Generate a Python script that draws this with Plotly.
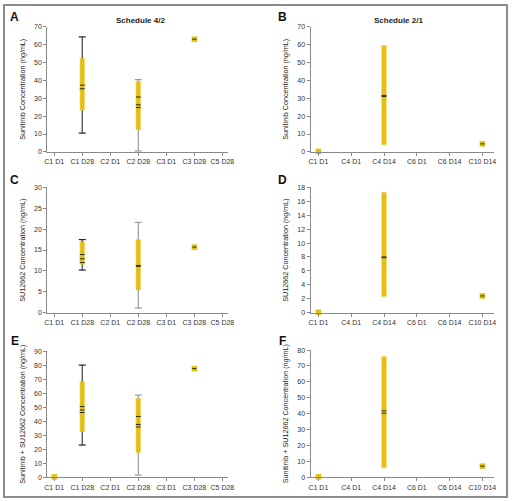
import plotly.graph_objects as go
from plotly.subplots import make_subplots

# ---------------- data ----------------
cats_42 = ["C1 D1", "C1 D28", "C2 D1", "C2 D28", "C3 D1", "C3 D28", "C5 D28"]
cats_21 = ["C1 D1", "C4 D1", "C4 D14", "C6 D1", "C6 D14", "C10 D14"]

# boxes: category, q1, q3, whisker low, whisker high, dashes, whisker colour
a_boxes = [
    ("C1 D28", 23.3, 52.4, 10.5, 64.3, [37.3, 35.3], "#3c3c3c"),
    ("C2 D28", 12.3, 39.5, 0.5, 40.4, [30.7, 26.3, 24.8], "#9a9a9a"),
]
a_single = [("C3 D28", 63.0, True)]

b_boxes = [("C4 D14", 4.0, 59.5, None, None, [31.6, 31.0], None)]
b_single = [("C1 D1", 0.3, False), ("C10 D14", 4.5, True)]

c_boxes = [
    ("C1 D28", 11.5, 17.0, 10.2, 17.5, [13.9, 12.9, 12.0], "#3c3c3c"),
    ("C2 D28", 5.4, 17.5, 1.1, 21.6, [11.3, 11.1], "#9a9a9a"),
]
c_single = [("C3 D28", 15.7, True)]

d_boxes = [("C4 D14", 2.3, 17.3, None, None, [8.0, 7.9], None)]
d_single = [("C1 D1", 0.05, False), ("C10 D14", 2.4, True)]

e_boxes = [
    ("C1 D28", 32.6, 68.2, 23.0, 80.0, [50.4, 48.0, 46.2], "#3c3c3c"),
    ("C2 D28", 17.6, 56.3, 1.6, 58.6, [43.4, 37.7, 35.9], "#9a9a9a"),
]
e_single = [("C1 D1", 0.3, False), ("C3 D28", 77.5, True)]

f_boxes = [("C4 D14", 6.0, 76.0, None, None, [41.8, 40.3], None)]
f_single = [("C1 D1", 0.3, False), ("C10 D14", 7.0, True)]

y_titles = [
    "Sunitinib Concentration (ng/mL)",
    "Sunitinib Concentration (ng/mL)",
    "SU12662 Concentration (ng/mL)",
    "SU12662 Concentration (ng/mL)",
    "Sunitinib + SU12662 Concentration (ng/mL)",
    "Sunitinib + SU12662 Concentration (ng/mL)",
]
y_ranges = [(0, 70, 10), (0, 70, 10), (0, 30, 5), (0, 18, 2), (0, 90, 10), (0, 80, 10)]
panel_letters = ["A", "B", "C", "D", "E", "F"]
col_titles = ["Schedule 4/2", "Schedule 2/1"]

# ---------------- styling ----------------
W, H = 514, 501
YELLOW = "#E4BF12"
FONT = "Liberation Sans, Arial, sans-serif"
AX = "#8a8a8a"

panels = [
    (1, 1, cats_42, a_boxes, a_single),
    (1, 2, cats_21, b_boxes, b_single),
    (2, 1, cats_42, c_boxes, c_single),
    (2, 2, cats_21, d_boxes, d_single),
    (3, 1, cats_42, e_boxes, e_single),
    (3, 2, cats_21, f_boxes, f_single),
]

# pixel placement of each plot area: (x0, x1, ytop, ybottom)
px = {
    (1, 1): (45, 229, 23, 150),
    (1, 2): (313, 500, 23, 150),
    (2, 1): (45, 229, 186, 313),
    (2, 2): (313, 500, 186, 313),
    (3, 1): (45, 229, 352, 480),
    (3, 2): (313, 500, 351, 480),
}
x_ranges = {1: [-0.25, 6.2], 2: [-0.24, 5.36]}
bar_w = {1: 0.165, 2: 0.145}

fig = make_subplots(rows=3, cols=2)

for i, (r, c, cats, boxes, singles) in enumerate(panels):
    # whiskers (drawn only outside the box)
    for cat, q1, q3, lo, hi, dashes, wcol in boxes:
        if lo is not None:
            fig.add_trace(go.Scatter(
                x=[cat, cat, None, cat, cat], y=[lo, q1, None, q3, hi],
                mode="lines", line=dict(color=wcol, width=1.2),
                hoverinfo="skip", showlegend=False, cliponaxis=False), row=r, col=c)
            fig.add_trace(go.Scatter(
                x=[cat, cat], y=[lo, hi], mode="markers",
                marker=dict(symbol="line-ew", size=5,
                            line=dict(color=wcol if wcol != "#3c3c3c" else "#222", width=1.2)),
                hoverinfo="skip", showlegend=False, cliponaxis=False), row=r, col=c)
    # boxes
    fig.add_trace(go.Bar(
        x=[b[0] for b in boxes], base=[b[1] for b in boxes],
        y=[b[2] - b[1] for b in boxes], width=bar_w[c],
        marker=dict(color=YELLOW, line=dict(color="#F2DA6A", width=0.6)),
        hoverinfo="skip", showlegend=False), row=r, col=c)
    # dashes inside boxes
    dx, dy = [], []
    for cat, q1, q3, lo, hi, dashes, wcol in boxes:
        for d in dashes:
            dx.append(cat)
            dy.append(d)
    fig.add_trace(go.Scatter(
        x=dx, y=dy, mode="markers",
        marker=dict(symbol="line-ew", size=3.5, line=dict(color="#2a2a10", width=1)),
        hoverinfo="skip", showlegend=False), row=r, col=c)
    # single observations
    fig.add_trace(go.Scatter(
        x=[s[0] for s in singles], y=[s[1] for s in singles], mode="markers",
        marker=dict(symbol="square", size=5.5, color=YELLOW, line=dict(width=0)),
        hoverinfo="skip", showlegend=False, cliponaxis=False), row=r, col=c)
    sx = [s[0] for s in singles if s[2]]
    sy = [s[1] for s in singles if s[2]]
    fig.add_trace(go.Scatter(
        x=sx, y=sy, mode="markers",
        marker=dict(symbol="line-ew", size=3, line=dict(color="#2a2a10", width=1)),
        hoverinfo="skip", showlegend=False, cliponaxis=False), row=r, col=c)

    x0, x1, yt, yb = px[(r, c)]
    y0, y1, dt = y_ranges[i]
    fig.update_xaxes(
        domain=[x0 / W, x1 / W], type="category", categoryorder="array",
        categoryarray=cats, range=x_ranges[c], showline=True, linecolor=AX,
        linewidth=1, ticks="outside", ticklen=3, tickcolor=AX, showgrid=False,
        zeroline=False, tickfont=dict(size=7, color="#333", family=FONT),
        fixedrange=True, row=r, col=c)
    fig.update_yaxes(
        domain=[1 - yb / H, 1 - yt / H], range=[y0, y1], dtick=dt,
        showline=True, linecolor=AX, linewidth=1, ticks="outside", ticklen=3,
        tickcolor=AX, showgrid=False, zeroline=False,
        tickfont=dict(size=7, color="#333", family=FONT),
        title=dict(text=y_titles[i], font=dict(size=7.2, color="#222", family=FONT),
                   standoff=7),
        fixedrange=True, row=r, col=c)

annotations = []
letter_pos = [(12, 13), (284, 13), (12, 178), (284, 178), (12, 342), (284, 342)]
for L, (x, y) in zip(panel_letters, letter_pos):
    annotations.append(dict(text="<b>%s</b>" % L, x=x / W, y=1 - y / H, xref="paper",
                            yref="paper", xanchor="center", yanchor="middle",
                            showarrow=False, font=dict(size=12, color="#111", family=FONT)))
for t, (x, y) in zip(col_titles, [(140, 17), (403, 17)]):
    annotations.append(dict(text="<b>%s</b>" % t, x=x / W, y=1 - y / H, xref="paper",
                            yref="paper", xanchor="center", yanchor="middle",
                            showarrow=False, font=dict(size=8, color="#222", family=FONT)))

fig.update_layout(
    width=W, height=H, margin=dict(l=0, r=0, t=0, b=0),
    paper_bgcolor="white", plot_bgcolor="white", barmode="overlay",
    showlegend=False, annotations=annotations,
    shapes=[dict(type="rect", xref="paper", yref="paper", x0=0.002, x1=0.998,
                 y0=0.002, y1=0.998, line=dict(color="#8c8c8c", width=2))],
)

fig.write_html("out.html", config={"displayModeBar": False, "staticPlot": True},
               post_script="document.body.style.margin='0';document.body.style.overflow='hidden';")
